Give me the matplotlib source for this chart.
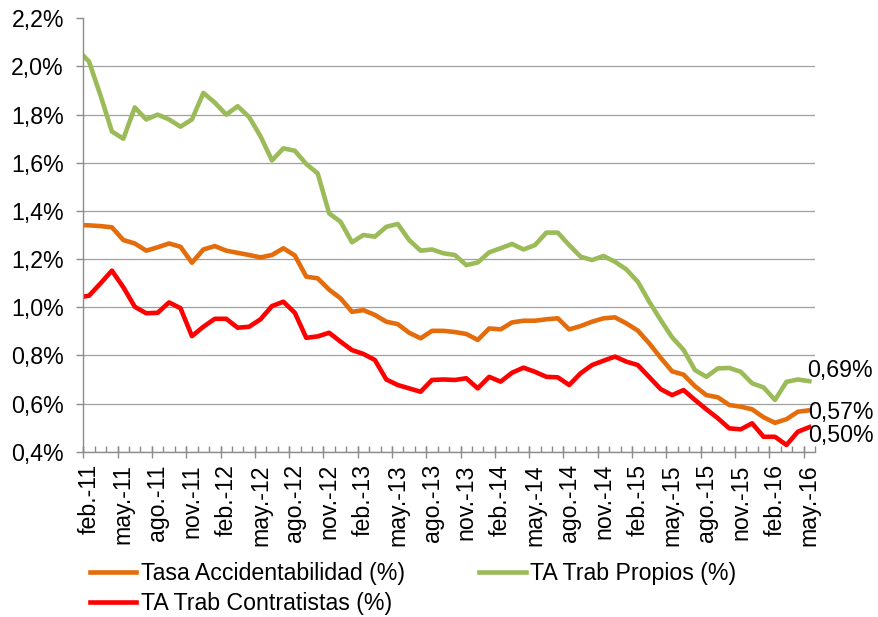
# -*- coding: utf-8 -*-
# Tasa de accidentabilidad mensual (feb-11 a may-16)
import matplotlib
matplotlib.use('Agg')
import matplotlib.pyplot as plt
from matplotlib.ticker import FuncFormatter, FixedLocator

plt.rcParams['font.family'] = ['Liberation Sans', 'DejaVu Sans']

# first value is ene-11 (only the piece up to the axis is visible)
tasa_total = [1.342, 1.340, 1.337, 1.332, 1.279, 1.265, 1.235, 1.249, 1.265, 1.251, 1.185, 1.240,
              1.254, 1.235, 1.226, 1.217, 1.207, 1.217, 1.245, 1.215, 1.127, 1.120, 1.073, 1.037,
              0.981, 0.988, 0.968, 0.940, 0.930, 0.894, 0.871, 0.902, 0.902, 0.897, 0.889, 0.864,
              0.912, 0.908, 0.937, 0.944, 0.944, 0.950, 0.954, 0.908, 0.922, 0.940, 0.954, 0.958,
              0.933, 0.903, 0.850, 0.790, 0.734, 0.720, 0.672, 0.635, 0.626, 0.594, 0.587, 0.576,
              0.543, 0.520, 0.535, 0.566, 0.572]
ta_propios = [2.07, 2.02, 1.88, 1.73, 1.70, 1.83, 1.78, 1.80, 1.78, 1.75, 1.78, 1.89,
              1.85, 1.80, 1.835, 1.79, 1.71, 1.61, 1.66, 1.65, 1.595, 1.556, 1.39, 1.355,
              1.27, 1.30, 1.293, 1.334, 1.346, 1.279, 1.235, 1.24, 1.224, 1.217, 1.175, 1.186,
              1.228, 1.245, 1.263, 1.24, 1.258, 1.31, 1.31, 1.258, 1.21, 1.196, 1.213, 1.189,
              1.157, 1.106, 1.023, 0.947, 0.875, 0.823, 0.739, 0.711, 0.746, 0.748, 0.732, 0.684,
              0.667, 0.615, 0.69, 0.70, 0.693]
ta_contratistas = [1.04, 1.048, 1.099, 1.152, 1.083, 1.002, 0.975, 0.977, 1.020, 0.996, 0.880, 0.919,
                   0.952, 0.952, 0.915, 0.919, 0.950, 1.005, 1.023, 0.977, 0.873, 0.879, 0.894, 0.857,
                   0.822, 0.806, 0.781, 0.700, 0.677, 0.663, 0.649, 0.698, 0.700, 0.698, 0.705, 0.663,
                   0.711, 0.691, 0.728, 0.749, 0.732, 0.711, 0.709, 0.677, 0.726, 0.760, 0.778, 0.795,
                   0.774, 0.760, 0.710, 0.660, 0.635, 0.656, 0.615, 0.576, 0.539, 0.497, 0.493, 0.518,
                   0.462, 0.462, 0.428, 0.483, 0.502]

xlabels = ['feb.-11', 'may.-11', 'ago.-11', 'nov.-11', 'feb.-12', 'may.-12', 'ago.-12', 'nov.-12',
           'feb.-13', 'may.-13', 'ago.-13', 'nov.-13', 'feb.-14', 'may.-14', 'ago.-14', 'nov.-14',
           'feb.-15', 'may.-15', 'ago.-15', 'nov.-15', 'feb.-16', 'may.-16']

label1 = 'Tasa Accidentabilidad (%)'
label2 = 'TA Trab Propios (%)'
label3 = 'TA Trab Contratistas (%)'

c_total = '#E46C0A'
c_prop = '#9BBB59'
c_cont = '#FF0000'
c_axis = '#8C8C8C'
fs = 16.7

x = list(range(len(tasa_total)))
n = len(x)

fig = plt.figure(figsize=(8.79, 6.17), dpi=100)
ax = fig.add_axes([0.0948, 0.2679, 0.9272 - 0.0948, 0.9703 - 0.2679])

l1, = ax.plot(x, tasa_total, color=c_total, lw=3.3, label=label1, solid_joinstyle='round')
l2, = ax.plot(x, ta_propios, color=c_prop, lw=3.3, label=label2, solid_joinstyle='round')
l3, = ax.plot(x, ta_contratistas, color=c_cont, lw=3.3, label=label3, solid_joinstyle='round')

ax.set_xlim(0.5, n - 0.5)
ax.set_ylim(0.4, 2.2)

# y axis
yt = [0.4 + 0.2 * k for k in range(10)]
ax.set_yticks(yt)
ax.yaxis.set_major_formatter(FuncFormatter(lambda v, p: ('%.1f%%' % v).replace('.', ',')))
ax.tick_params(axis='y', direction='out', length=5, width=1, color=c_axis, labelsize=fs, pad=9)
ax.grid(axis='y', color='#A0A0A0', lw=0.9)
ax.set_axisbelow(True)
ax.get_ygridlines()[-1].set_visible(False)

# x axis: labels every 3 months, monthly short ticks, long ticks every 3
lab_pos = list(range(1, n, 3))
ax.set_xticks(lab_pos)
ax.set_xticklabels(xlabels, rotation=90)
ax.tick_params(axis='x', which='major', length=0, labelsize=fs, pad=9)
ax.xaxis.set_minor_locator(FixedLocator([k + 0.5 for k in range(n)]))
ax.tick_params(axis='x', which='minor', direction='in', length=4, width=1, color=c_axis)
sec = ax.secondary_xaxis('bottom')
sec.set_xticks([p - 0.5 for p in lab_pos])
sec.set_xticklabels([])
sec.tick_params(direction='inout', length=8, width=1, color=c_axis)
sec.spines['bottom'].set_visible(False)

for s in ['top', 'right']:
    ax.spines[s].set_visible(False)
for s in ['left', 'bottom']:
    ax.spines[s].set_color(c_axis)
    ax.spines[s].set_linewidth(1)

# end values
ax.annotate(('%.2f%%' % ta_propios[-1]).replace('.', ','), (x[-1], ta_propios[-1]),
            xytext=(-2, 11), textcoords='offset pixels', fontsize=fs, va='center', ha='left')
ax.annotate(('%.2f%%' % tasa_total[-1]).replace('.', ','), (x[-1], tasa_total[-1]),
            xytext=(-1, -2), textcoords='offset pixels', fontsize=fs, va='center', ha='left')
ax.annotate(('%.2f%%' % ta_contratistas[-1]).replace('.', ','), (x[-1], ta_contratistas[-1]),
            xytext=(-1, -8), textcoords='offset pixels', fontsize=fs, va='center', ha='left')

fig.legend([l1, l3, l2], [label1, label3, label2], ncol=2, loc='upper left',
           bbox_to_anchor=(90 / 879, 1 - 562 / 617), frameon=False, fontsize=fs,
           handlelength=2.0, handletextpad=0.2, columnspacing=3.2, labelspacing=0.3,
           borderpad=0, borderaxespad=0)

plt.savefig('out.png', dpi=100)
